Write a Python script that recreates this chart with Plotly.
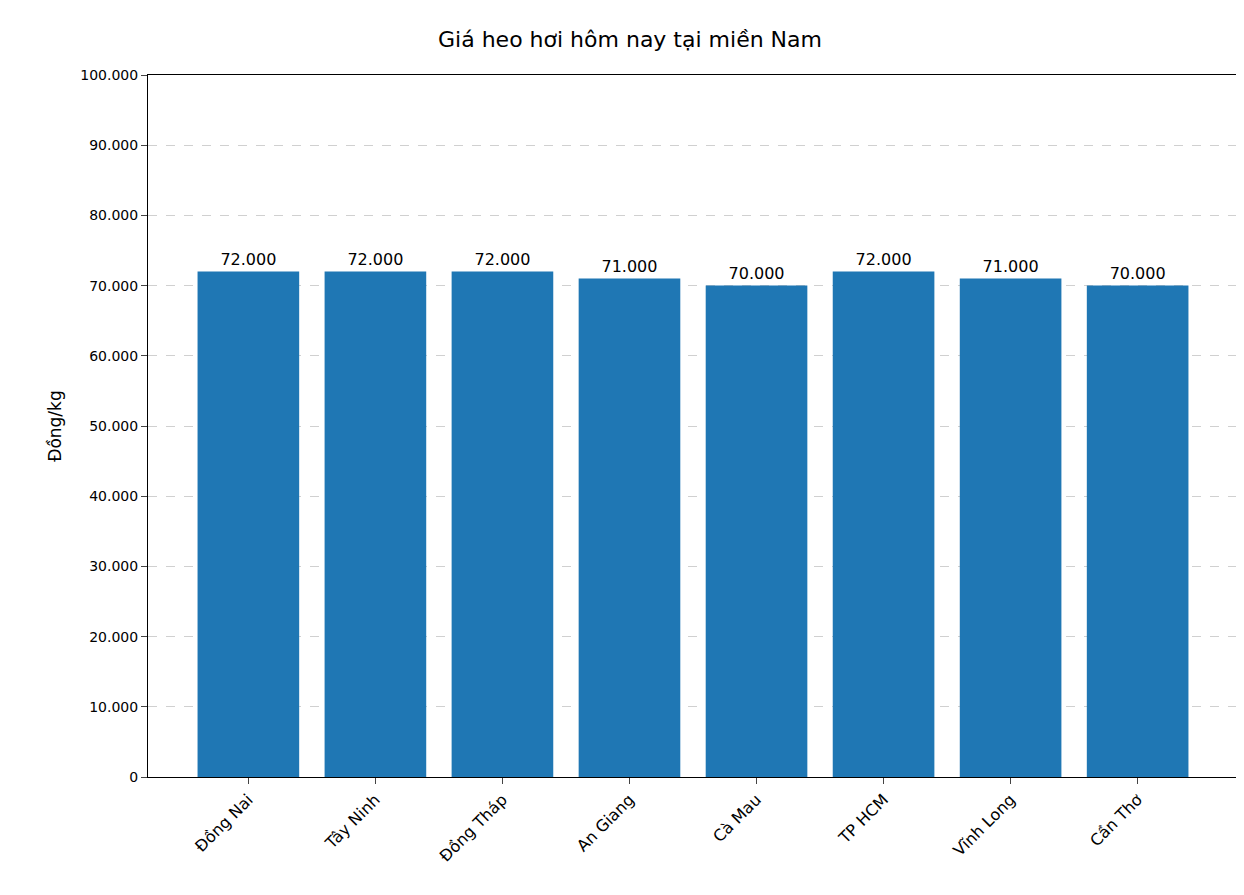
import plotly.graph_objects as go

provinces = ["Đồng Nai", "Tây Ninh", "Đồng Tháp", "An Giang", "Cà Mau", "TP HCM", "Vĩnh Long", "Cần Thơ"]
prices = [72000, 72000, 72000, 71000, 70000, 72000, 71000, 70000]
ytick_vals = [0, 10000, 20000, 30000, 40000, 50000, 60000, 70000, 80000, 90000, 100000]
ytick_text = ["0", "10.000", "20.000", "30.000", "40.000", "50.000", "60.000", "70.000", "80.000", "90.000", "100.000"]

labels = [f"{v:,}".replace(",", ".") for v in prices]
xs = list(range(len(provinces)))

fig = go.Figure(go.Bar(
    x=xs, y=prices, width=0.8, marker_color="#1f77b4", marker_line_width=0,
    text=labels, textposition="outside", cliponaxis=False,
    textfont=dict(size=16, color="black"),
))
fig.update_layout(
    width=1244, height=895,
    margin=dict(l=140, r=14, t=67, b=126),
    plot_bgcolor="white", paper_bgcolor="white",
    font=dict(family="DejaVu Sans", color="black"),
    title=dict(text="Giá heo hơi hôm nay tại miền Nam", x=0.5, xanchor="center",
               y=0.965, yanchor="middle", font=dict(size=22)),
    showlegend=False,
)
fig.update_xaxes(range=[-0.79, 7.79], tickvals=xs, ticktext=provinces, tickangle=-45,
                 ticks="outside", ticklen=6, showline=True, linecolor="black", mirror=True,
                 showgrid=False, tickfont=dict(size=16))
fig.update_yaxes(range=[0, 100000], tickvals=ytick_vals, ticktext=ytick_text,
                 ticks="outside", ticklen=6, showline=True, linecolor="black", mirror=True,
                 showgrid=True, gridcolor="#d0d0d0", griddash="dash", zeroline=False,
                 tickfont=dict(size=14), title=dict(text="Đồng/kg", font=dict(size=17), standoff=14))
fig.write_html("out.html")
